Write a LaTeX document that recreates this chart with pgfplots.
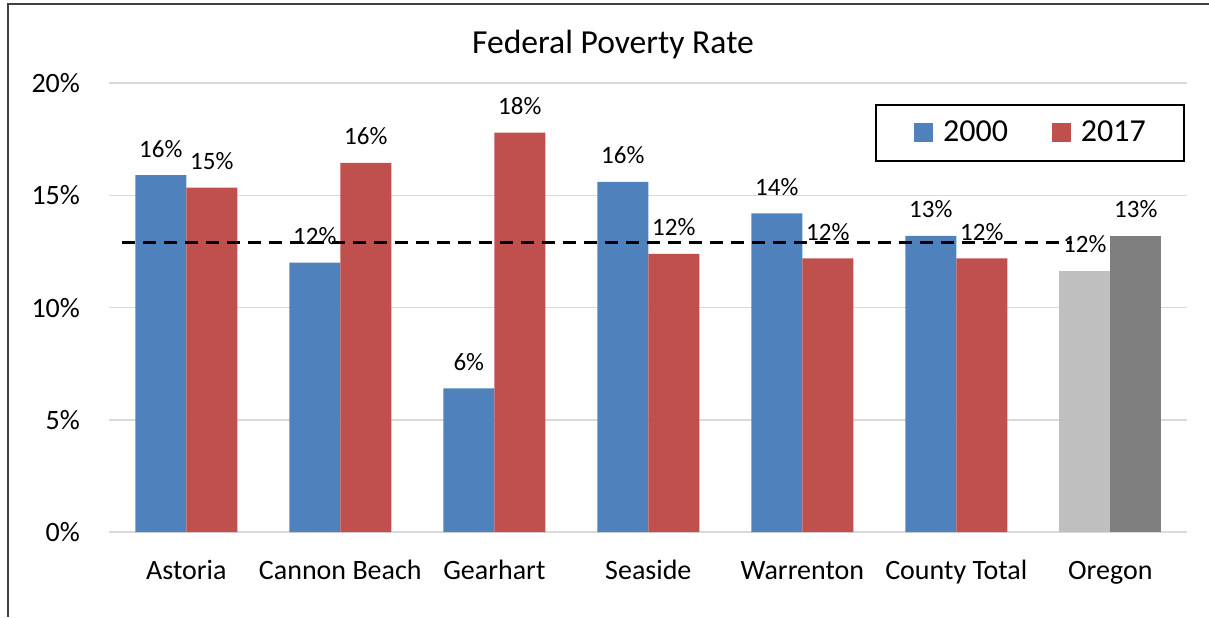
\documentclass[border=0pt]{standalone}
\usepackage{fontspec}
\setmainfont{Carlito}
\usepackage{pgfplots}
\pgfplotsset{compat=1.18}
\definecolor{cblue}{HTML}{4F81BD}
\definecolor{cred}{HTML}{C0504D}
\definecolor{lgray}{HTML}{BFBFBF}
\definecolor{dgray}{HTML}{7F7F7F}
\definecolor{gridgray}{HTML}{D9D9D9}
\begin{document}
\begin{tikzpicture}[x=1pt,y=1pt]
\path[use as bounding box] (0,0) rectangle (604.5,308.5);
\draw[line width=1pt, color=black!75] (4,0) -- (4,306.5) -- (604.5,306.5);
\node[font=\fontsize{16.8}{20}\selectfont] at (306.5,286) {Federal Poverty Rate};
\begin{axis}[
  at={(71,37.8)}, anchor=south west, scale only axis,
  width=539pt, height=224.5pt,
  xmin=-0.5, xmax=6.5, ymin=0, ymax=20,
  ytick={0,5,10,15,20},
  /pgf/number format/assume math mode=true,
  yticklabel={\pgfmathprintnumber{\tick}\%},
  xtick={0,1,2,3,4,5,6},
  xticklabels={Astoria, Cannon Beach, Gearhart, Seaside, Warrenton, County Total, Oregon},
  axis line style={draw=none},
  major tick style={draw=none},
  major tick length=0pt,
  ymajorgrids,
  grid style={color=gridgray, line width=0.8pt},
  yticklabel style={font=\fontsize{14}{17}\selectfont, anchor=east, inner sep=0pt, xshift=-14.5pt},
  xticklabel style={font=\fontsize{14}{17}\selectfont, anchor=base, inner sep=0pt, yshift=-23.5pt},
  nodes near coords={\pgfmathprintnumber[fixed,precision=0]{\pgfplotspointmeta}\%},
  every node near coord/.append style={font=\fontsize{12.5}{15}\selectfont, anchor=base, inner sep=0pt, yshift=9pt, text=black},
  legend image code/.code={\fill[#1] (0pt,-4.75pt) rectangle (9.5pt,4.75pt);},
  legend style={at={(0.7106,0.953)}, anchor=north west, draw=black, line width=0.75pt,
    font=\fontsize{16}{19}\selectfont, legend columns=2,
    inner xsep=19pt, inner ysep=8pt,
    nodes={inner sep=0pt},
    /tikz/every odd column/.append style={column sep=5pt},
    /tikz/every even column/.append style={column sep=22pt}},
]
\addplot[ybar, bar width=25.5pt, bar shift=-12.75pt, fill=cblue, draw=none,
  every node near coord/.append style={xshift=-12.75pt}]
  coordinates {(0,15.9) (1,12.0) (2,6.4) (3,15.6) (4,14.2) (5,13.2)};
\addlegendentry{2000}
\addplot[ybar, bar width=25.5pt, bar shift=12.75pt, fill=cred, draw=none,
  every node near coord/.append style={xshift=12.75pt}]
  coordinates {(0,15.35) (1,16.45) (2,17.8) (3,12.4) (4,12.2) (5,12.2)};
\addlegendentry{2017}
\addplot[ybar, bar width=25.5pt, bar shift=-12.75pt, fill=lgray, draw=none, forget plot,
  every node near coord/.append style={xshift=-12.75pt}]
  coordinates {(6,11.65)};
\addplot[ybar, bar width=25.5pt, bar shift=12.75pt, fill=dgray, draw=none, forget plot,
  every node near coord/.append style={xshift=12.75pt}]
  coordinates {(6,13.2)};
\addplot[black, dash pattern=on 6.5pt off 4pt, line width=1.5pt, forget plot, nodes near coords={}]
  coordinates {(-0.416,12.9) (5.75,12.9)};
\end{axis}
\end{tikzpicture}
\end{document}
